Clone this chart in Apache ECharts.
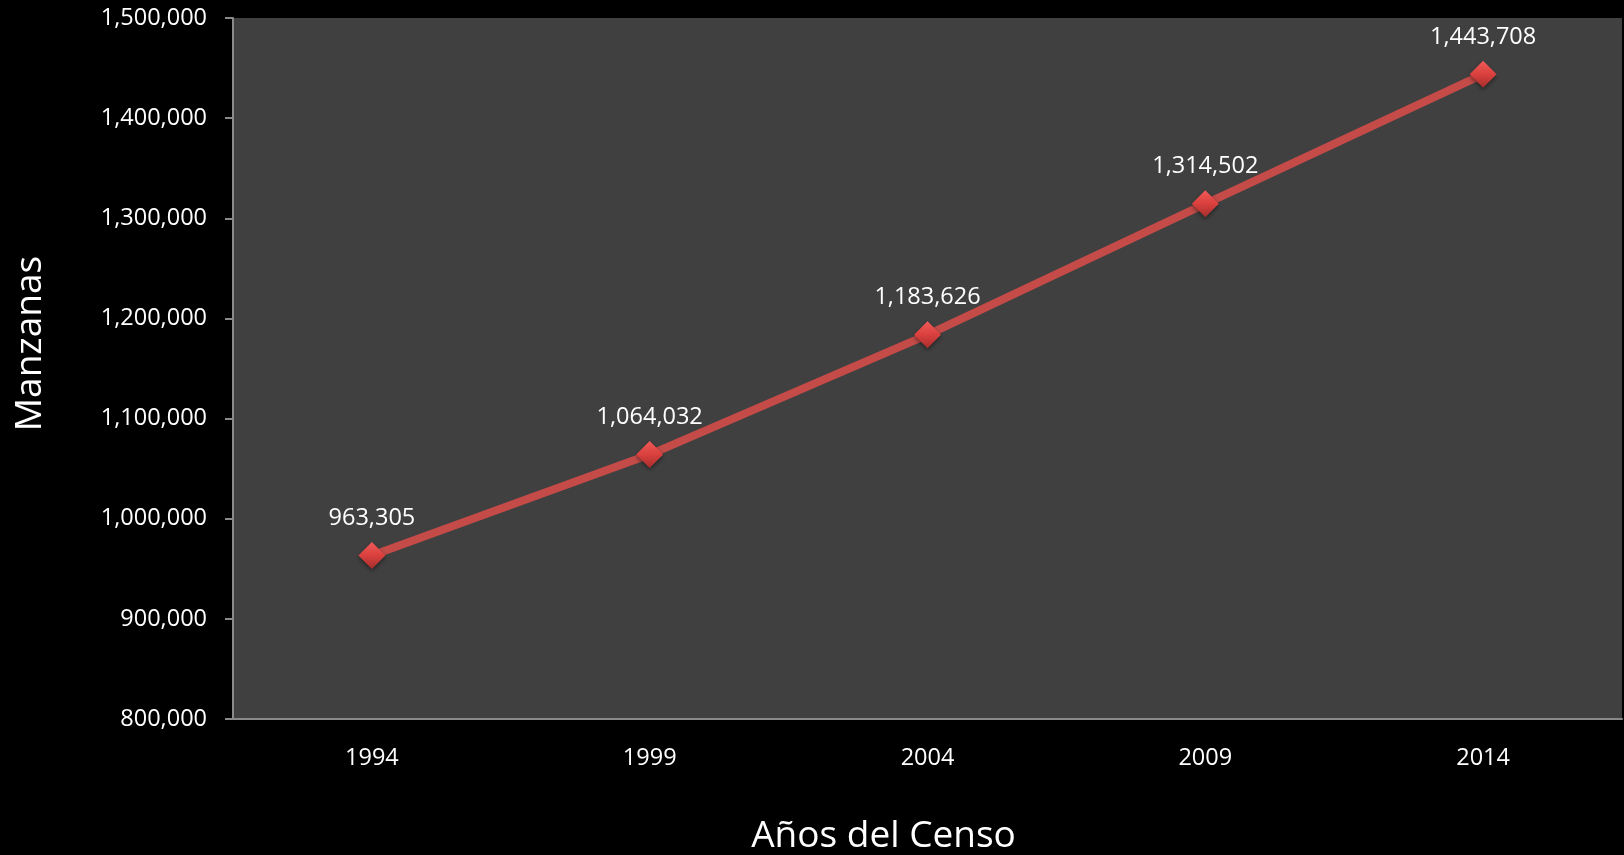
<!DOCTYPE html>
<html>
<head>
<meta charset="utf-8">
<title>Manzanas por año del censo</title>
<script src="https://cdn.jsdelivr.net/npm/echarts@6/dist/echarts.min.js"></script>
<style>
  html, body { margin: 0; padding: 0; background: #000; }
  #chart { width: 1624px; height: 855px; }
</style>
</head>
<body>
<div id="chart"></div>
<script>
// Census years and number of blocks (manzanas) counted
const years = ['1994', '1999', '2004', '2009', '2014'];
const manzanas = [963305, 1064032, 1183626, 1314502, 1443708];

const yMin = 800000;
const yMax = 1500000;
const yStep = 100000;

const fmt = v => Number(v).toLocaleString('en-US');
const font = '"Open Sans", "Noto Sans", sans-serif';

const chart = echarts.init(document.getElementById('chart'));
chart.setOption({
  backgroundColor: '#000000',
  animation: false,
  grid: {
    left: 233, right: 2, top: 18, bottom: 136,
    outerBoundsMode: 'none',
    containLabel: false,
    show: true, backgroundColor: '#404040', borderWidth: 0
  },
  xAxis: {
    type: 'category',
    data: years,
    boundaryGap: true,
    name: 'Años del Censo',
    nameLocation: 'middle',
    nameGap: 99,
    nameTextStyle: { color: '#ffffff', fontSize: 37, fontFamily: font, padding: [0, 88, 0, 0] },
    axisLine: { lineStyle: { color: '#8a8a8a', width: 2 } },
    axisTick: { show: false },
    axisLabel: { color: '#ffffff', fontSize: 23.5, fontFamily: font, margin: 27 },
    splitLine: { show: false }
  },
  yAxis: {
    type: 'value',
    min: yMin, max: yMax, interval: yStep,
    name: 'Manzanas',
    nameLocation: 'middle',
    nameGap: 184,
    nameRotate: 90,
    nameTextStyle: { color: '#ffffff', fontSize: 37, fontFamily: font, padding: [0, 0, 0, 50] },
    axisLine: { show: true, lineStyle: { color: '#8a8a8a', width: 2 } },
    axisTick: { show: true, length: 8, lineStyle: { color: '#8a8a8a', width: 2 } },
    axisLabel: { color: '#ffffff', fontSize: 23.5, fontFamily: font, margin: 26, formatter: fmt },
    splitLine: { show: false }
  },
  series: [{
    type: 'line',
    data: manzanas,
    symbol: 'diamond',
    symbolSize: 27,
    lineStyle: { color: '#C44B48', width: 8 },
    itemStyle: {
      color: new echarts.graphic.LinearGradient(0, 0, 0, 1, [
        { offset: 0, color: '#F05A58' },
        { offset: 0.5, color: '#D9403E' },
        { offset: 1, color: '#A52E2C' }
      ]),
      borderWidth: 0,
      shadowColor: 'rgba(0,0,0,0.45)',
      shadowBlur: 4,
      shadowOffsetY: 2
    },
    label: {
      show: true,
      position: 'top',
      distance: 12,
      color: '#ffffff',
      fontSize: 23.5,
      fontFamily: font,
      formatter: p => fmt(p.value)
    },
    z: 3
  }]
});
</script>
</body>
</html>
